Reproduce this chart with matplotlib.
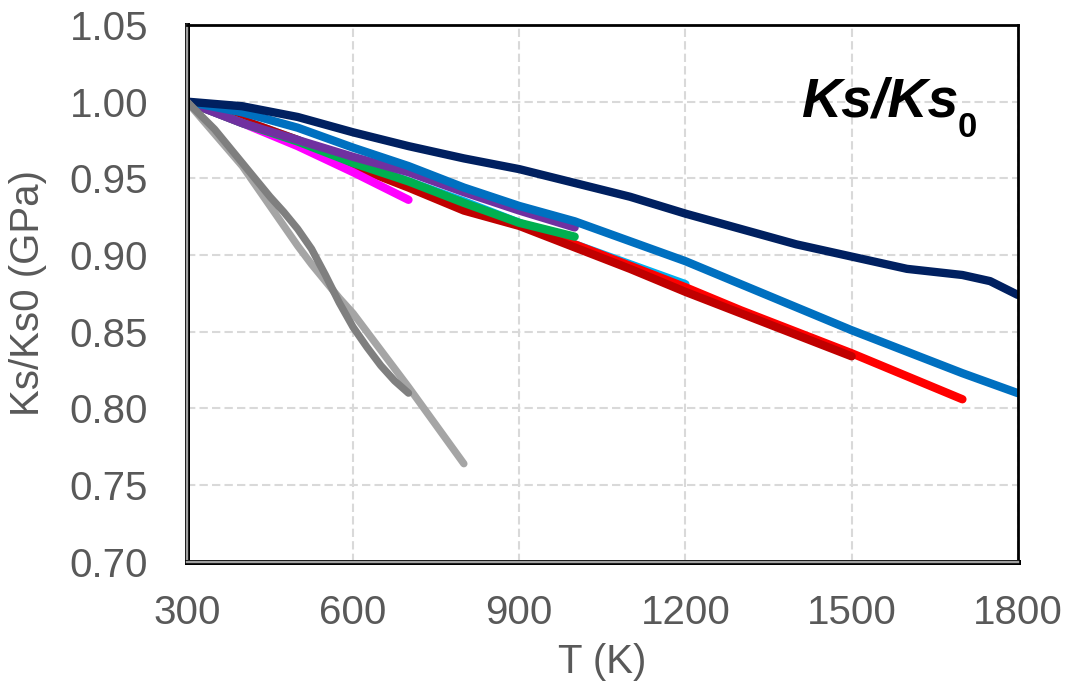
import matplotlib.pyplot as plt
import matplotlib.patheffects as pe

plt.rcParams['font.family'] = ['Liberation Sans', 'DejaVu Sans']

#temperatures (K) for the long series
T = [300, 400, 500, 600, 700, 800, 900, 1000, 1100, 1200, 1300, 1400, 1500, 1600, 1700, 1800]

T_navy = [300, 400, 500, 600, 700, 800, 900, 1000, 1100, 1200, 1300, 1400, 1500, 1550, 1600, 1650, 1700, 1750, 1800]
navy = [1.000, 0.997, 0.990, 0.980, 0.971, 0.963, 0.956, 0.947, 0.938, 0.927, 0.917, 0.907, 0.899, 0.895, 0.891, 0.889, 0.887, 0.883, 0.874]
blue = [1.000, 0.993, 0.983, 0.970, 0.958, 0.944, 0.932, 0.922, 0.909, 0.896, 0.881, 0.866, 0.851, 0.837, 0.823, 0.810]
red = [1.000, 0.987, 0.974, 0.960, 0.946, 0.933, 0.920, 0.907, 0.893, 0.879, 0.864, 0.850, 0.836, 0.821, 0.806]
darkred = [1.000, 0.988, 0.975, 0.958, 0.944, 0.929, 0.919, 0.905, 0.891, 0.876, 0.862, 0.848, 0.834]
lightblue = [1.000, 0.988, 0.975, 0.961, 0.948, 0.935, 0.921, 0.907, 0.894, 0.881]
green = [1.000, 0.986, 0.974, 0.960, 0.948, 0.934, 0.921, 0.912]
purple = [1.000, 0.986, 0.975, 0.964, 0.954, 0.941, 0.929, 0.918]
magenta = [1.000, 0.986, 0.971, 0.954, 0.936]

#gray curves read every 25-50 K
T_lgray = [300, 350, 400, 450, 500, 525, 550, 575, 600, 650, 700, 750, 800]
lightgray = [1.000, 0.979, 0.958, 0.932, 0.906, 0.894, 0.883, 0.872, 0.862, 0.838, 0.814, 0.789, 0.764]
T_dgray = [300, 350, 400, 450, 475, 500, 525, 550, 575, 600, 625, 650, 675, 700]
darkgray = [1.000, 0.982, 0.960, 0.938, 0.928, 0.917, 0.904, 0.887, 0.869, 0.853, 0.840, 0.828, 0.818, 0.810]

fig = plt.figure(figsize=(10.68, 6.92), dpi=100)
ax = fig.add_axes([0.175, 0.188, 0.778, 0.776])

kw = dict(lw=6, solid_capstyle='round', solid_joinstyle='round')
ax.plot(T[:len(lightblue)], lightblue, color='#00B0F0', **kw)
ax.plot(T[:len(red)], red, color='#FF0000', **kw)
ax.plot(T[:len(darkred)], darkred, color='#C00000', **kw)
ax.plot(T[:len(magenta)], magenta, color='#FF00FF', **kw)
ax.plot(T[:len(green)], green, color='#00B050', **kw)
ax.plot(T[:len(purple)], purple, color='#7030A0', **kw)
ax.plot(T, blue, color='#0070C0', **kw)
ax.plot(T_navy, navy, color='#002060', **kw)
ax.plot(T_lgray, lightgray, color='#A5A5A5', lw=5.3, solid_capstyle='round', solid_joinstyle='round')
ax.plot(T_dgray, darkgray, color='#7F7F7F', lw=5.3, solid_capstyle='round', solid_joinstyle='round')

ax.set_xlim(300, 1800)
ax.set_ylim(0.70, 1.05)
ax.set_xticks(range(300, 1801, 300))
yt = [0.70, 0.75, 0.80, 0.85, 0.90, 0.95, 1.00, 1.05]
ax.set_yticks(yt)
ax.set_yticklabels([f"{v:.2f}" for v in yt])

ax.grid(True, color='#D9D9D9', lw=1.5, linestyle=(0, (4, 2)))
ax.set_axisbelow(True)
ax.tick_params(axis='x', length=0, pad=23, labelsize=29, labelcolor='#595959')
ax.tick_params(axis='y', length=0, pad=28, labelsize=29, labelcolor='#595959')

for side in ['top', 'right']:
  ax.spines[side].set_color('black')
  ax.spines[side].set_linewidth(2)
for side in ['left', 'bottom']:
  ax.spines[side].set_color('#A0A0A0')
  ax.spines[side].set_linewidth(1.6)
  ax.spines[side].set_path_effects([pe.withStroke(linewidth=3.6, foreground='black'), pe.Normal()])

ax.set_xlabel("T (K)", fontsize=29, color='#595959', labelpad=8)
ax.set_ylabel("Ks/Ks0 (GPa)", fontsize=29, color='#595959', labelpad=16)

#panel title in the top right corner
t = ax.text(0.928, 0.829, "Ks/Ks", transform=ax.transAxes, ha='right', va='baseline',
            fontsize=40, fontweight='bold', fontstyle='italic')
ax.annotate("0", xy=(1, 0), xycoords=t, xytext=(0, -6), textcoords='offset points',
            ha='left', va='baseline', fontsize=25, fontweight='bold')

fig.savefig("out.png", dpi=100)
